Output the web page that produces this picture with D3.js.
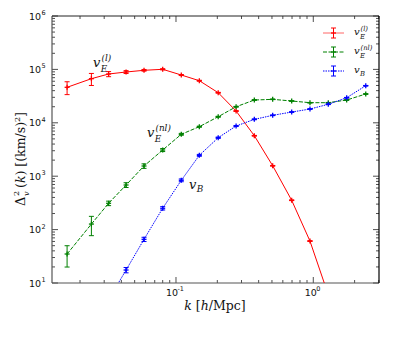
<html>
<head>
<script src="https://d3js.org/d3.v7.min.js"></script>
<style>
  body { margin: 0; background: #fff; }
  text { font-family: "DejaVu Sans", sans-serif; }
  .math { font-family: "DejaVu Serif", "Liberation Serif", serif; }
</style>
</head>
<body>
<script>
// wavenumbers k [h/Mpc]
var kVals = [0.0161, 0.0242, 0.0323, 0.0433, 0.0585, 0.0800, 0.1093, 0.1479, 0.203,
             0.274, 0.372, 0.506, 0.696, 0.946, 1.286, 1.750, 2.41];
// v_E^(l)
var linVals = [46200, 67000, 82000, 89400, 96200, 100400, 78500, 61400, 36600,
               16600, 5730, 1570, 354, 61, 6.0, 0.3, 0.01];
var linErr = [12500, 17000, 9000, 5500, 3500, 2500, 1800, 1200, 600, 250, 80, 20, 5, 1, 0.1, 0.01, 0.001];
// v_E^(nl)
var nlVals = [34.9, 127, 311, 684, 1552, 3094, 6090, 8460, 13000, 20000, 26700, 27500,
              25600, 23800, 23800, 26700, 34600];
var nlErr = [15, 50, 30, 70, 150, 200, 250, 200, 250, 300, 300, 300, 250, 250, 250, 300, 350];
// v_B
var bVals = [0.3, 1.3, 4.9, 17.5, 65.8, 251, 838, 2460, 5260, 8710, 11600, 13800,
             15900, 18100, 22200, 29500, 49500];
var bErr = [0.05, 0.2, 0.6, 2, 6, 18, 50, 100, 150, 200, 200, 200, 200, 250, 300, 400, 600];

var xTicks = [0.1, 1];
var yTicks = [1e1, 1e2, 1e3, 1e4, 1e5, 1e6];

var W = 399, H = 338;
var L = 52, R = 379, T = 16, B = 283;

var svg = d3.select("body").append("svg").attr("width", W).attr("height", H);

var x = d3.scaleLog().domain([0.0125, 3.01]).range([L, R]);
var y = d3.scaleLog().domain([10, 1e6]).range([B, T]);

svg.append("defs").append("clipPath").attr("id", "clip")
  .append("rect").attr("x", L).attr("y", T).attr("width", R - L).attr("height", B - T);

// minor tick values
var xMinor = [];
[0.01, 0.1, 1].forEach(function(d){ for (var i = 2; i <= 9; i++) { var v = d * i; if (v > 0.0125 && v < 3.01) xMinor.push(v); } });
var yMinor = [];
[10, 100, 1e3, 1e4, 1e5].forEach(function(d){ for (var i = 2; i <= 9; i++) yMinor.push(d * i); });

var ax = svg.append("g").attr("stroke", "#222").attr("stroke-width", 0.8);
// major/minor ticks, inward on all four sides
xTicks.forEach(function(v){
  ax.append("line").attr("x1", x(v)).attr("x2", x(v)).attr("y1", B).attr("y2", B - 6);
  ax.append("line").attr("x1", x(v)).attr("x2", x(v)).attr("y1", T).attr("y2", T + 6);
});
xMinor.forEach(function(v){
  ax.append("line").attr("x1", x(v)).attr("x2", x(v)).attr("y1", B).attr("y2", B - 3);
  ax.append("line").attr("x1", x(v)).attr("x2", x(v)).attr("y1", T).attr("y2", T + 3);
});
yTicks.forEach(function(v){
  ax.append("line").attr("y1", y(v)).attr("y2", y(v)).attr("x1", L).attr("x2", L + 6);
  ax.append("line").attr("y1", y(v)).attr("y2", y(v)).attr("x1", R).attr("x2", R - 6);
});
yMinor.forEach(function(v){
  ax.append("line").attr("y1", y(v)).attr("y2", y(v)).attr("x1", L).attr("x2", L + 3);
  ax.append("line").attr("y1", y(v)).attr("y2", y(v)).attr("x1", R).attr("x2", R - 3);
});

// frame
svg.append("line").attr("x1", L).attr("x2", L).attr("y1", T).attr("y2", B).attr("stroke", "#555").attr("stroke-width", 1.2);
svg.append("line").attr("x1", L).attr("x2", R).attr("y1", B).attr("y2", B).attr("stroke", "#555").attr("stroke-width", 1.2);
svg.append("line").attr("x1", L).attr("x2", R).attr("y1", T).attr("y2", T).attr("stroke", "#222").attr("stroke-width", 1);
svg.append("line").attr("x1", R).attr("x2", R).attr("y1", T).attr("y2", B).attr("stroke", "#000").attr("stroke-width", 1.2);

// tick labels
yTicks.forEach(function(v){
  var e = Math.round(Math.log10(v));
  svg.append("text").attr("x", 41).attr("y", y(v) + 3.5).attr("text-anchor", "end")
    .attr("font-size", 9.5).attr("fill", "#111").text("10");
  svg.append("text").attr("x", 41.5).attr("y", y(v) - 1).attr("font-size", 6.5).attr("fill", "#111").text(e);
});
xTicks.forEach(function(v){
  var e = Math.round(Math.log10(v));
  svg.append("text").attr("x", x(v) + (e < 0 ? -4 : -2.5)).attr("y", 296).attr("text-anchor", "middle")
    .attr("font-size", 9.5).attr("fill", "#111").text("10");
  svg.append("text").attr("x", x(v) + (e < 0 ? 1.5 : 3)).attr("y", 291).attr("font-size", 6.5).attr("fill", "#111").text(e < 0 ? "-1" : "0");
});

// axis labels
svg.append("text").attr("class", "math").attr("x", 215).attr("y", 310).attr("text-anchor", "middle")
  .attr("font-size", 12.5).attr("fill", "#111")
  .html('<tspan font-style="italic">k</tspan> [<tspan font-style="italic">h</tspan>/Mpc]');

// y label built from pieces in a rotated group
var yg = svg.append("g").attr("class", "math").attr("transform", "translate(25,206) rotate(-90)")
  .attr("fill", "#111");
yg.append("text").attr("class", "math").attr("x", 0).attr("y", 0).attr("font-size", 13).text("\u0394");
yg.append("text").attr("class", "math").attr("x", 10).attr("y", -6).attr("font-size", 8).text("2");
yg.append("text").attr("class", "math").attr("x", 10).attr("y", 4).attr("font-size", 8).attr("font-style", "italic").text("v");
var yl = yg.append("text").attr("class", "math").attr("x", 18).attr("y", 0).attr("font-size", 12.5);
yl.append("tspan").text("(");
yl.append("tspan").attr("font-style", "italic").text("k");
yl.append("tspan").text(") [(km/s)");
yl.append("tspan").attr("font-size", 8).attr("dy", -5).text("2");
yl.append("tspan").attr("dy", 5).text("]");

// series
var series = [
  { vals: linVals, err: linErr, color: "#ff0000", dash: null },
  { vals: nlVals, err: nlErr, color: "#008000", dash: "4,1.5" },
  { vals: bVals, err: bErr, color: "#0000ff", dash: "1.5,1" }
];

var plot = svg.append("g").attr("clip-path", "url(#clip)");
var line = d3.line().x(function(d){ return x(d[0]); }).y(function(d){ return y(d[1]); });

series.forEach(function(s){
  var pts = kVals.map(function(k, i){ return [k, s.vals[i], s.err[i]]; });
  plot.append("path").datum(pts).attr("d", line).attr("fill", "none")
    .attr("stroke", s.color).attr("stroke-width", 1).attr("stroke-dasharray", s.dash);
  var g = plot.selectAll(null).data(pts).enter().append("g").attr("stroke", s.color).attr("stroke-width", 1);
  var hi = function(d){ return y(d[1] + d[2]); };
  var lo = function(d){ return y(Math.max(d[1] - d[2], 1e-6)); };
  g.append("line").attr("x1", function(d){ return x(d[0]); }).attr("x2", function(d){ return x(d[0]); })
    .attr("y1", hi).attr("y2", lo);
  g.append("line").attr("x1", function(d){ return x(d[0]) - 2.5; }).attr("x2", function(d){ return x(d[0]) + 2.5; })
    .attr("y1", hi).attr("y2", hi);
  g.append("line").attr("x1", function(d){ return x(d[0]) - 2.5; }).attr("x2", function(d){ return x(d[0]) + 2.5; })
    .attr("y1", lo).attr("y2", lo);
  // plus markers
  g.append("line").attr("x1", function(d){ return x(d[0]) - 2.5; }).attr("x2", function(d){ return x(d[0]) + 2.5; })
    .attr("y1", function(d){ return y(d[1]); }).attr("y2", function(d){ return y(d[1]); }).attr("stroke-width", 1.3);
  g.append("line").attr("x1", function(d){ return x(d[0]); }).attr("x2", function(d){ return x(d[0]); })
    .attr("y1", function(d){ return y(d[1]) - 2.5; }).attr("y2", function(d){ return y(d[1]) + 2.5; }).attr("stroke-width", 1.3);
});

// math labels: v with stacked sub and sup
function vLabel(px, py, sub, sup, size) {
  var g = svg.append("g").attr("fill", "#111");
  g.append("text").attr("class", "math").attr("x", px).attr("y", py).attr("font-size", size)
    .attr("font-style", "italic").text("v");
  var sx = px + size * 0.6;
  if (sup) {
    g.append("text").attr("class", "math").attr("x", sx + size * 0.05).attr("y", py - size * 0.45)
      .attr("font-size", size * 0.68).attr("font-style", "italic").text(sup);
    g.append("text").attr("class", "math").attr("x", sx).attr("y", py + size * 0.38)
      .attr("font-size", size * 0.68).attr("font-style", "italic").text(sub);
  } else {
    g.append("text").attr("class", "math").attr("x", sx).attr("y", py + size * 0.25)
      .attr("font-size", size * 0.68).attr("font-style", "italic").text(sub);
  }
  return g;
}
vLabel(93, 67, "E", "(l)", 13);
vLabel(147, 137, "E", "(nl)", 13);
vLabel(189, 189, "B", null, 13);

// legend
var legItems = [
  { s: series[0], sub: "E", sup: "(l)" },
  { s: series[1], sub: "E", sup: "(nl)" },
  { s: series[2], sub: "B", sup: null }
];
var legY = [33, 52, 71];
legItems.forEach(function(it, i){
  var yy = legY[i], c = it.s.color;
  var g = svg.append("g").attr("stroke", c).attr("stroke-width", 1);
  g.append("line").attr("x1", 323).attr("x2", 344).attr("y1", yy).attr("y2", yy).attr("stroke-dasharray", it.s.dash)
    .attr("stroke-opacity", i === 0 ? 0.6 : 1);
  g.append("line").attr("x1", 333.5).attr("x2", 333.5).attr("y1", yy - 5).attr("y2", yy + 5);
  g.append("line").attr("x1", 331).attr("x2", 336).attr("y1", yy - 5).attr("y2", yy - 5);
  g.append("line").attr("x1", 331).attr("x2", 336).attr("y1", yy + 5).attr("y2", yy + 5);
  g.append("line").attr("x1", 331).attr("x2", 336).attr("y1", yy).attr("y2", yy).attr("stroke-width", 1.3);
  vLabel(354, yy + 2, it.sub, it.sup, 10);
});
</script>
</body>
</html>
